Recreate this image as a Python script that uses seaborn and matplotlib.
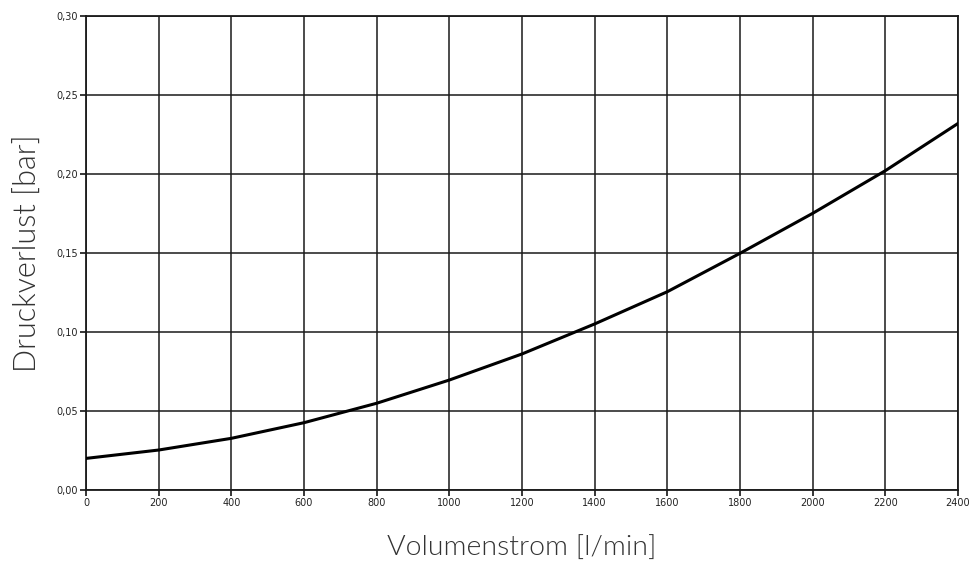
import matplotlib
matplotlib.use("Agg")
import matplotlib.pyplot as plt
import numpy as np
import pandas as pd
import seaborn as sns

# Volumenstrom [l/min] vs Druckverlust [bar]
flow = [0, 200, 400, 600, 800, 1000, 1200, 1400, 1600, 1800, 2000, 2200, 2400]
pressure = [0.0200, 0.0253, 0.0327, 0.0426, 0.0549, 0.0696, 0.0861,
            0.1051, 0.1255, 0.1498, 0.1751, 0.2021, 0.2320]

x_ticks = list(range(0, 2401, 200))
y_ticks = [0.00, 0.05, 0.10, 0.15, 0.20, 0.25, 0.30]
y_tick_labels = ["0,00", "0,05", "0,10", "0,15", "0,20", "0,25", "0,30"]

df = pd.DataFrame({"flow": flow, "pressure": pressure})

sns.set_style("white")
plt.rcParams['font.family'] = ['DejaVu Sans']

fig = plt.figure(figsize=(9.7, 5.63), dpi=100)
ax = fig.add_axes([86 / 970, 1 - 490 / 563, 872 / 970, 474 / 563])

sns.lineplot(data=df, x="flow", y="pressure", ax=ax, color="black",
             linewidth=2.2, zorder=3)

ax.set_xlim(0, 2400)
ax.set_ylim(0, 0.30)
ax.set_xticks(x_ticks)
ax.set_xticklabels([str(t) for t in x_ticks])
ax.set_yticks(y_ticks)
ax.set_yticklabels(y_tick_labels)
ax.tick_params(axis="both", labelsize=7, length=4, width=1.1, color="black",
               labelcolor="#222222", pad=2, direction="out", bottom=True, left=True)

ax.grid(True, color="#1a1a1a", linewidth=1.1)
for s in ax.spines.values():
    s.set_color("#1a1a1a")
    s.set_linewidth(1.3)

ax.set_xlabel("Volumenstrom [l/min]", labelpad=20, fontsize=20.5,
              family=["Lato", "DejaVu Sans"], fontweight=300, color="#333333")
ax.set_ylabel("Druckverlust [bar]", labelpad=10, fontsize=22,
              family=["Lato", "DejaVu Sans"], fontweight=300, color="#333333")

fig.savefig("out.png", dpi=100)
